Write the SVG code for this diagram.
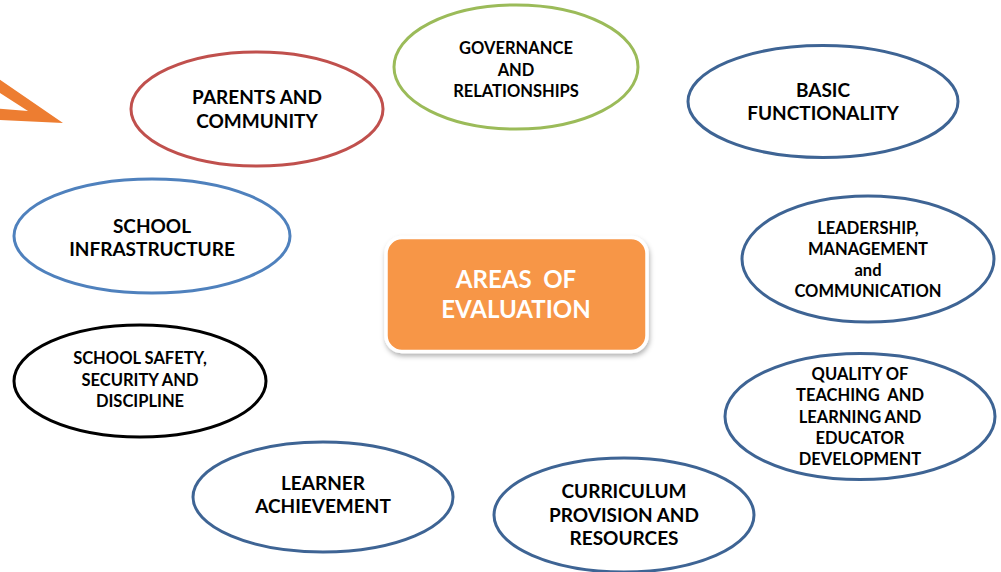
<svg xmlns="http://www.w3.org/2000/svg" width="1001" height="572" viewBox="0 0 1001 572">
<defs>
<style>
.n{fill:#ffffff;stroke-width:3}
.b{stroke:#3E6494}
.t{font-family:Lato,"Open Sans","Liberation Sans",sans-serif;font-weight:bold;fill:#000000;text-anchor:middle;white-space:pre}
.l{font-size:19px}
.s{font-size:16.5px}
.c{font-family:Lato,"Open Sans","Liberation Sans",sans-serif;font-weight:bold;fill:#ffffff;text-anchor:middle;font-size:24px;white-space:pre}
</style>
<filter id="sh" x="-10%" y="-10%" width="120%" height="130%">
<feDropShadow dx="1" dy="3" stdDeviation="2.5" flood-color="#000000" flood-opacity="0.3"/>
</filter>
</defs>
<rect width="1001" height="572" fill="#ffffff"/>
<g id="arrow">
<path d="M-20,66 L63,123 L-20,119 Z M-20,80 L28,111 L-20,107 Z" fill="#ED7D31" fill-rule="evenodd"/>
</g>
<g id="connectors"></g>
<g id="parents">
<ellipse class="n" cx="257" cy="109" rx="126" ry="57" stroke="#C0504D"/>
<text class="t l" x="257" y="104">PARENTS AND</text>
<text class="t l" x="257" y="128">COMMUNITY</text>
</g>
<g id="governance">
<ellipse class="n" cx="516" cy="67" rx="122" ry="62" stroke="#9BBB59"/>
<text class="t s" x="516" y="54">GOVERNANCE</text>
<text class="t s" x="516" y="76">AND</text>
<text class="t s" x="516" y="97">RELATIONSHIPS</text>
</g>
<g id="basic">
<ellipse class="n b" cx="823" cy="101.5" rx="135" ry="56"/>
<text class="t l" x="823" y="97">BASIC</text>
<text class="t l" x="823" y="120">FUNCTIONALITY</text>
</g>
<g id="infrastructure">
<ellipse class="n" cx="152" cy="236" rx="138" ry="57" stroke="#4F81BD"/>
<text class="t l" x="152" y="233">SCHOOL</text>
<text class="t l" x="152" y="256">INFRASTRUCTURE</text>
</g>
<g id="leadership">
<ellipse class="n b" cx="868" cy="259" rx="126" ry="63"/>
<text class="t s" x="868" y="234">LEADERSHIP,</text>
<text class="t s" x="868" y="255">MANAGEMENT</text>
<text class="t s" x="868" y="276">and</text>
<text class="t s" x="868" y="297">COMMUNICATION</text>
</g>
<g id="safety">
<ellipse class="n" cx="140" cy="381" rx="126" ry="56" stroke="#000000"/>
<text class="t s" x="140" y="364">SCHOOL SAFETY,</text>
<text class="t s" x="140" y="386">SECURITY AND</text>
<text class="t s" x="140" y="407">DISCIPLINE</text>
</g>
<g id="quality">
<ellipse class="n b" cx="860" cy="416.5" rx="135" ry="63"/>
<text class="t s" x="860" y="380">QUALITY OF</text>
<text class="t s" x="860" y="401" xml:space="preserve">TEACHING  AND</text>
<text class="t s" x="860" y="423">LEARNING AND</text>
<text class="t s" x="860" y="444">EDUCATOR</text>
<text class="t s" x="860" y="465">DEVELOPMENT</text>
</g>
<g id="learner">
<ellipse class="n b" cx="323" cy="497" rx="130" ry="55"/>
<text class="t l" x="323" y="490">LEARNER</text>
<text class="t l" x="323" y="513">ACHIEVEMENT</text>
</g>
<g id="curriculum">
<ellipse class="n b" cx="624" cy="515" rx="130" ry="57"/>
<text class="t l" x="624" y="498">CURRICULUM</text>
<text class="t l" x="624" y="522">PROVISION AND</text>
<text class="t l" x="624" y="545">RESOURCES</text>
</g>
<g id="center">
<rect x="386" y="237.5" width="261" height="114" rx="16" fill="#F79646" stroke="#ffffff" stroke-width="3.5" filter="url(#sh)"/>
<text class="c" x="516" y="288" xml:space="preserve">AREAS  OF</text>
<text class="c" x="516" y="318">EVALUATION</text>
</g>
</svg>
